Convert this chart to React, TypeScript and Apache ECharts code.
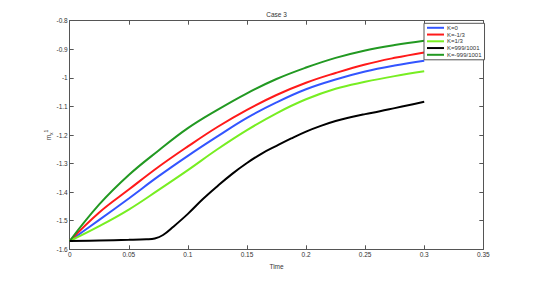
import React, { useEffect, useRef } from "react";
import * as echarts from "echarts";

const seriesNames = ["K=0", "K=-1/3", "K=1/3", "K=999/1001", "K=-999/1001"];
const seriesColors = ["#3355ff", "#ff1a1a", "#77ee22", "#000000", "#229922"];

const timeGrid = [0, 0.025, 0.05, 0.075, 0.1, 0.125, 0.15, 0.175, 0.2, 0.225, 0.25, 0.275, 0.3];
const kZeroValues = [-1.571, -1.497, -1.422, -1.345, -1.273, -1.205, -1.14, -1.086, -1.04, -1.006, -0.978, -0.957, -0.94];
const kMinusThirdValues = [-1.571, -1.471, -1.391, -1.312, -1.24, -1.172, -1.112, -1.06, -1.017, -0.983, -0.953, -0.93, -0.911];
const kThirdValues = [-1.571, -1.519, -1.461, -1.393, -1.323, -1.25, -1.183, -1.124, -1.075, -1.038, -1.014, -0.994, -0.977];
const kNearMinusOneValues = [-1.571, -1.443, -1.34, -1.255, -1.176, -1.112, -1.054, -1.004, -0.964, -0.93, -0.904, -0.885, -0.87];

const kNearOneTime = [
  0, 0.025, 0.05, 0.065, 0.072, 0.079, 0.0877, 0.1, 0.1125, 0.125, 0.1375, 0.15, 0.1625,
  0.175, 0.1875, 0.2, 0.2125, 0.225, 0.2375, 0.25, 0.2625, 0.275, 0.2875, 0.3,
];
const kNearOneValues = [
  -1.571, -1.569, -1.567, -1.565, -1.562, -1.55, -1.521, -1.476, -1.425, -1.379, -1.336, -1.298, -1.265,
  -1.238, -1.212, -1.188, -1.168, -1.151, -1.138, -1.127, -1.117, -1.106, -1.095, -1.084,
];

const pair = (ts: number[], vs: number[]) => ts.map((t, i) => [t, vs[i]]);
const allData = [
  pair(timeGrid, kZeroValues),
  pair(timeGrid, kMinusThirdValues),
  pair(timeGrid, kThirdValues),
  pair(kNearOneTime, kNearOneValues),
  pair(timeGrid, kNearMinusOneValues),
];

const xTickMin = 0;
const xTickMax = 0.35;
const xTickStep = 0.05;
const yTickMin = -1.6;
const yTickMax = -0.8;
const yTickStep = 0.1;

const FONT = "Liberation Sans, Arial, sans-serif";
const AXIS_COLOR = "#555555";
const LABEL_COLOR = "#333333";

const fmt = (v: number) => String(parseFloat(v.toFixed(3)));

export default function App() {
  const ref = useRef<HTMLDivElement>(null);
  useEffect(() => {
    if (!ref.current) return;
    const chart = echarts.init(ref.current, null, { renderer: "svg" });
    const tick = { show: true, inside: true, length: 4, lineStyle: { color: AXIS_COLOR, width: 1 } };
    const line = { show: true, onZero: false, lineStyle: { color: AXIS_COLOR, width: 1 } };
    chart.setOption({
      animation: false,
      backgroundColor: "#ffffff",
      textStyle: { fontFamily: FONT },
      title: {
        text: "Case 3",
        left: 276.5,
        top: 11,
        padding: 0,
        textAlign: "center",
        textStyle: { fontSize: 6.5, fontWeight: "normal", color: LABEL_COLOR, fontFamily: FONT },
      },
      graphic: [
        {
          type: "text",
          x: 48,
          y: 135,
          rotation: Math.PI / 2,
          style: {
            text: "{m|m}{sub|x}{sup|1}",
            align: "center",
            verticalAlign: "middle",
            fill: LABEL_COLOR,
            font: "6.5px Liberation Sans, Arial, sans-serif",
            rich: {
              m: { fontSize: 6.5, fill: LABEL_COLOR, fontFamily: FONT, verticalAlign: "middle", lineHeight: 10 },
              sub: { fontSize: 5, fill: LABEL_COLOR, fontFamily: FONT, verticalAlign: "bottom", lineHeight: 10 },
              sup: { fontSize: 5, fill: LABEL_COLOR, fontFamily: FONT, verticalAlign: "top", lineHeight: 10 },
            },
          },
        },
      ],
      grid: { left: 69.7, right: 50.7, top: 20.7, bottom: 31.7, containLabel: false },
      legend: {
        orient: "vertical",
        left: 424,
        top: 23.3,
        padding: [1.5, 3, 2, 3],
        itemGap: 0.75,
        itemWidth: 17,
        itemHeight: 2,
        icon: "rect",
        backgroundColor: "#ffffff",
        borderColor: "#555555",
        borderWidth: 1,
        borderRadius: 0,
        textStyle: { fontSize: 6, lineHeight: 6, color: LABEL_COLOR, fontFamily: FONT, padding: [0, 0, 0, -2] },
        data: seriesNames,
      },
      xAxis: [
        {
          type: "value",
          min: xTickMin,
          max: xTickMax,
          interval: xTickStep,
          name: "Time",
          nameLocation: "middle",
          nameGap: 8.5,
          nameTextStyle: { fontSize: 6.5, color: LABEL_COLOR, fontFamily: FONT },
          axisLine: line,
          axisTick: tick,
          splitLine: { show: false },
          axisLabel: { fontSize: 6.5, color: LABEL_COLOR, margin: 2, formatter: (v: number) => fmt(v), fontFamily: FONT },
        },
        {
          type: "value",
          position: "top",
          min: xTickMin,
          max: xTickMax,
          interval: xTickStep,
          axisLine: line,
          axisTick: tick,
          splitLine: { show: false },
          axisLabel: { show: false },
        },
      ],
      yAxis: [
        {
          type: "value",
          min: yTickMin,
          max: yTickMax,
          interval: yTickStep,
          axisLine: line,
          axisTick: tick,
          splitLine: { show: false },
          axisLabel: { fontSize: 6.5, color: LABEL_COLOR, margin: 2, formatter: (v: number) => fmt(v), fontFamily: FONT },
        },
        {
          type: "value",
          position: "right",
          min: yTickMin,
          max: yTickMax,
          interval: yTickStep,
          axisLine: line,
          axisTick: tick,
          splitLine: { show: false },
          axisLabel: { show: false },
        },
      ],
      series: seriesNames.map((name, i) => ({
        name,
        type: "line",
        xAxisIndex: 0,
        yAxisIndex: 0,
        data: allData[i],
        smooth: 0.4,
        showSymbol: false,
        symbol: "none",
        color: seriesColors[i],
        lineStyle: { color: seriesColors[i], width: 2 },
        z: i === 3 ? 3 : 2,
      })),
    });
    return () => chart.dispose();
  }, []);
  return <div ref={ref} style={{ width: 534, height: 281, position: "absolute", left: 0, top: 0 }} />;
}
